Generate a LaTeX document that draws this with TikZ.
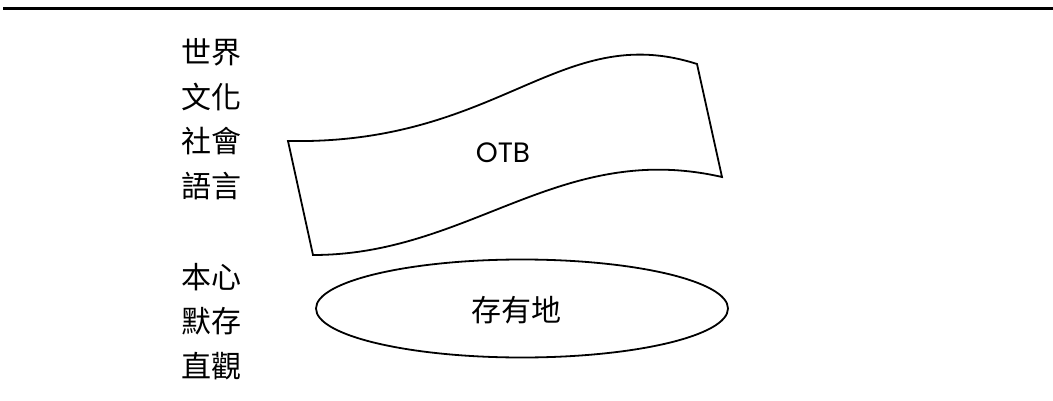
\documentclass[tikz,border=0pt]{standalone}
\usepackage{fontspec}
\setmainfont{Poppins}
\newfontfamily\cjk{Noto Sans CJK TC}
\usetikzlibrary{shapes.geometric}
\tikzset{
  outline/.style={draw=black, line width=1.8pt, line join=miter},
  lbl/.style={anchor=west, inner sep=0pt, font=\cjk\fontsize{30pt}{30pt}\selectfont},
  ctext/.style={inner sep=0pt, font=\cjk\fontsize{30pt}{30pt}\selectfont},
  latin/.style={inner sep=0pt, font=\fontsize{28pt}{28pt}\selectfont},
}
\begin{document}
\begin{tikzpicture}[x=1pt, y=-1pt]
\useasboundingbox (0,0) rectangle (1053,401);
% top rule
\coordinate (ruleL) at (3,9);
\coordinate (ruleR) at (1053,9);
\draw[line width=3pt] (ruleL) -- (ruleR);
% left labels
\node[lbl] (w1) at (181,52) {世界};
\node[lbl] (w2) at (181,97) {文化};
\node[lbl] (w3) at (181,141) {社會};
\node[lbl] (w4) at (181,186) {語言};
\node[lbl] (w5) at (181,277) {本心};
\node[lbl] (w6) at (181,321) {默存};
\node[lbl] (w7) at (181,366) {直觀};
% flag
\coordinate (tl) at (288,141);
\coordinate (tr) at (697,64);
\coordinate (br) at (722,177);
\coordinate (bl) at (313,255);
\draw[outline] (tl) .. controls (500,145) and (560,20) .. (tr)
  -- (br) .. controls (560,140) and (470,255) .. (bl) -- cycle;
\node[latin] (otb) at (503,153) {OTB};
% ellipse
\node[outline, ellipse, minimum width=412pt, minimum height=98pt, inner sep=0pt] (base) at (522,308.5) {};
\node[ctext] (basetxt) at (516,310) {存有地};
\end{tikzpicture}
\end{document}
